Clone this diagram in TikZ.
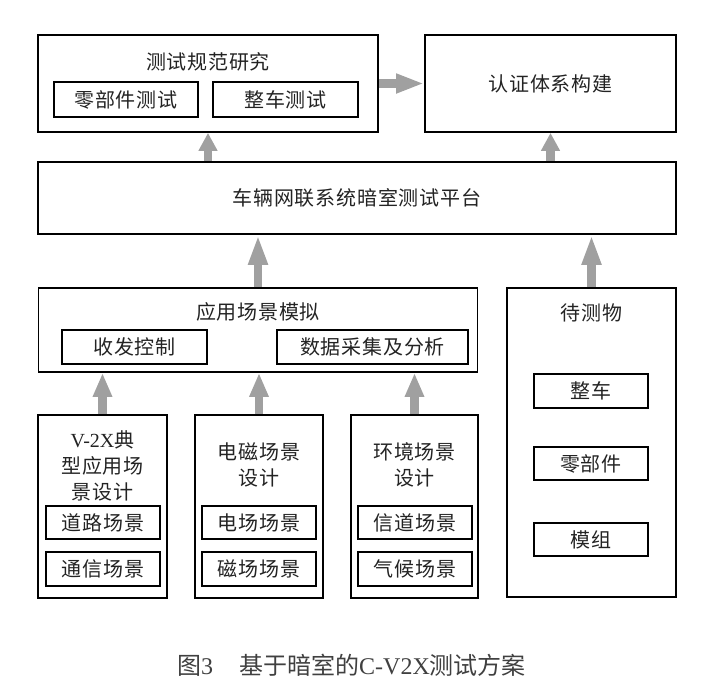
\documentclass[tikz,border=0pt]{standalone}
\usepackage{fontspec}
\setmainfont{Liberation Serif}
\newfontfamily\cjk[LetterSpace=4]{Noto Sans CJK SC}
\newfontfamily\cjkcap{Noto Sans CJK SC}
\usetikzlibrary{arrows.meta}
\definecolor{agray}{RGB}{160,160,160}
\definecolor{tgray}{RGB}{35,35,35}
\begin{document}
\begin{tikzpicture}[x=1pt,y=-1pt,
  box/.style={draw=black, line width=1.8pt, rectangle, inner sep=0pt},
  txt/.style={font=\fontsize{20}{26}\selectfont\cjk, text=tgray, align=center, inner sep=0pt},
  garrow/.style={draw=agray, line width=8.5pt, -{Triangle[width=18pt,length=#1]}},
  garrow/.default=28pt]
\useasboundingbox (0,0) rectangle (719,693);

% top row
\node[box, minimum width=340pt, minimum height=97pt] (spec) at (208,83.5) {};
\node[txt] (spect) at (208,62) {测试规范研究};
\node[box, txt, minimum width=144pt, minimum height=35pt] (part) at (126,99.5) {零部件测试};
\node[box, txt, minimum width=145pt, minimum height=35pt] (veh) at (285.5,99.5) {整车测试};
\node[box, txt, minimum width=251pt, minimum height=97pt] (cert) at (550.5,83.5) {认证体系构建};

% platform
\node[box, txt, minimum width=638pt, minimum height=72pt] (plat) at (357,198) {车辆网联系统暗室测试平台};

% application scenario
\node[box, minimum width=439pt, minimum height=84pt] (app) at (258,330) {};
\node[txt] (appt) at (258,312) {应用场景模拟};
\node[box, txt, minimum width=145pt, minimum height=34pt] (ctrl) at (134.5,347) {收发控制};
\node[box, txt, minimum width=191pt, minimum height=34pt] (data) at (372.5,347) {数据采集及分析};

% DUT
\node[box, minimum width=169pt, minimum height=309pt] (dut) at (591.5,442.5) {};
\node[txt] (dutt) at (591.5,313) {待测物};
\node[box, txt, minimum width=114pt, minimum height=34pt] (d1) at (591,391) {整车};
\node[box, txt, minimum width=114pt, minimum height=33pt] (d2) at (591,463.5) {零部件};
\node[box, txt, minimum width=114pt, minimum height=33pt] (d3) at (591,539.5) {模组};

% bottom boxes
\node[box, minimum width=129pt, minimum height=183pt] (b1) at (102.5,506.5) {};
\node[txt] (b1t) at (102.5,466) {{\rmfamily V-2X}典\\型应用场\\景设计};
\node[box, txt, minimum width=114pt, minimum height=33pt] (b1a) at (103,522.5) {道路场景};
\node[box, txt, minimum width=114pt, minimum height=34pt] (b1b) at (103,569) {通信场景};

\node[box, minimum width=128pt, minimum height=183pt] (b2) at (259,506.5) {};
\node[txt] (b2t) at (259,465) {电磁场景\\设计};
\node[box, txt, minimum width=114pt, minimum height=33pt] (b2a) at (259,522.5) {电场场景};
\node[box, txt, minimum width=114pt, minimum height=34pt] (b2b) at (259,569) {磁场场景};

\node[box, minimum width=127pt, minimum height=183pt] (b3) at (414.5,506.5) {};
\node[txt] (b3t) at (414.5,465) {环境场景\\设计};
\node[box, txt, minimum width=114pt, minimum height=33pt] (b3a) at (415,522.5) {信道场景};
\node[box, txt, minimum width=114pt, minimum height=34pt] (b3b) at (415,569) {气候场景};

% arrows
\draw[garrow=28pt] (spec.east) -- (cert.west);
\draw[garrow=18pt] (plat.north -| spec.south) -- (spec.south);
\draw[garrow=18pt] (plat.north -| cert.south) -- (cert.south);
\draw[garrow=30pt] (app.north) -- (app.north |- plat.south);
\draw[garrow=30pt] (dut.north) -- (dut.north |- plat.south);
\draw[garrow=24pt] (b1.north) -- (b1.north |- app.south);
\draw[garrow=24pt] (b2.north) -- (b2.north |- app.south);
\draw[garrow=24pt] (b3.north) -- (b3.north |- app.south);

% caption
\node[font=\fontsize{24}{28}\selectfont, text=black!75, inner sep=0pt, anchor=west] (cap) at (177,665)
  {{\cjkcap 图}3\hspace{26pt}{\cjkcap 基于暗室的}C-V2X{\cjkcap 测试方案}};
\end{tikzpicture}
\end{document}
